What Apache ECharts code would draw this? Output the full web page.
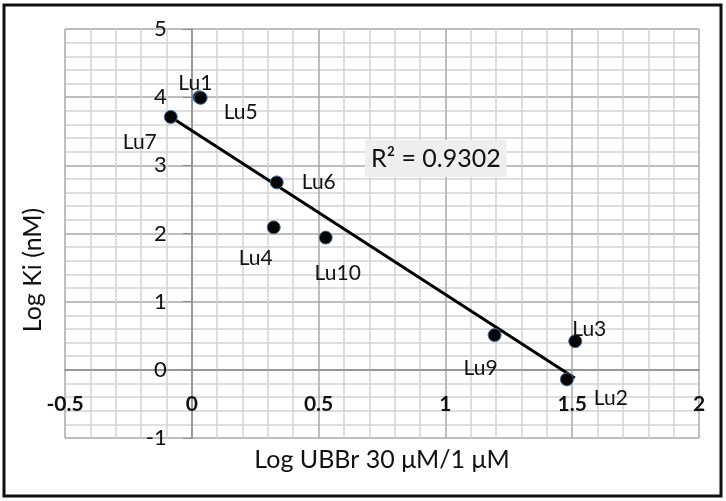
<!DOCTYPE html>
<html>
<head>
<meta charset="utf-8">
<script src="https://cdn.jsdelivr.net/npm/echarts@6/dist/echarts.min.js"></script>
<style>
  html, body { margin: 0; padding: 0; background: #fff; }
  #chart { width: 726px; height: 501px; }
</style>
</head>
<body>
<div id="chart"></div>
<script>
// point names and values (log UBBr ratio, log Ki)
const names = ['Lu1', 'Lu5', 'Lu7', 'Lu6', 'Lu4', 'Lu10', 'Lu9', 'Lu3', 'Lu2'];
const xs = [0.03, 0.035, -0.083, 0.335, 0.323, 0.528, 1.194, 1.512, 1.479];
const ys = [4.0, 3.99, 3.71, 2.75, 2.09, 1.94, 0.51, 0.42, -0.14];

// linear trendline ends, as drawn in the original
const trendX = [-0.083, 1.51];
const trendY = [3.71, -0.12];
const r2 = 0.9302;

const xTicks = [-0.5, 0, 0.5, 1, 1.5, 2];
const yTicks = [-1, 0, 1, 2, 3, 4, 5];

// where each point's label sits, relative to the point (px)
const labelOffset = {
  Lu1: [-4, -14], Lu5: [40, 14], Lu7: [-31, 25], Lu6: [42, 0],
  Lu4: [-18, 31], Lu10: [12, 36], Lu9: [-14, 33], Lu3: [14, -12], Lu2: [44, 19]
};

const FONT = 'Lato, "Open Sans", sans-serif';

let myChart = echarts.init(document.getElementById('chart'));

let pts = names.map(function (n, i) {
  return {
    name: n,
    value: [xs[i], ys[i]],
    label: { offset: labelOffset[n] }
  };
});

// grid box: left 65, right 699, top 29, bottom 438
// axes cross at the origin, so shift each axis onto the other's zero
const gridL = 65, gridR = 27, gridT = 29, gridB = 63;
const plotW = 726 - gridL - gridR, plotH = 501 - gridT - gridB;
const xShift = (0 - xTicks[0]) / (xTicks[xTicks.length - 1] - xTicks[0]) * plotW;
const yShift = (0 - yTicks[0]) / (yTicks[yTicks.length - 1] - yTicks[0]) * plotH;

let option = {
  animation: false,
  grid: { left: gridL, right: gridR, top: gridT, bottom: gridB, containLabel: false },
  xAxis: {
    type: 'value',
    min: xTicks[0],
    max: xTicks[xTicks.length - 1],
    interval: 0.5,
    offset: -yShift,
    axisLine: { onZero: false, lineStyle: { color: '#8c8c8c', width: 1.5 } },
    axisTick: { show: false },
    axisLabel: {
      margin: 24,
      color: '#111',
      fontFamily: FONT,
      fontSize: 21,
      fontWeight: 'bold',
      formatter: function (v) { return String(v); }
    },
    splitLine: { show: true, lineStyle: { color: '#a8a8a8', width: 1.5 } },
    minorTick: { show: false, splitNumber: 5 },
    minorSplitLine: { show: true, lineStyle: { color: '#d4d4d4', width: 1.5 } }
  },
  yAxis: {
    type: 'value',
    min: yTicks[0],
    max: yTicks[yTicks.length - 1],
    interval: 1,
    offset: -xShift,
    axisLine: { onZero: false, lineStyle: { color: '#8c8c8c', width: 1.5 } },
    axisTick: { show: true, length: 9, lineStyle: { color: '#8c8c8c' } },
    axisLabel: {
      margin: 25,
      color: '#111',
      fontFamily: FONT,
      fontSize: 22
    },
    splitLine: { show: true, lineStyle: { color: '#a8a8a8', width: 1.5 } },
    minorTick: { show: false, splitNumber: 5 },
    minorSplitLine: { show: true, lineStyle: { color: '#d4d4d4', width: 1.5 } }
  },
  series: [
    {
      name: 'trend',
      type: 'line',
      data: [[trendX[0], trendY[0]], [trendX[1], trendY[1]]],
      symbol: 'none',
      lineStyle: { color: '#000', width: 3 },
      silent: true,
      z: 3
    },
    {
      name: 'compounds',
      type: 'scatter',
      data: pts,
      symbolSize: 13,
      itemStyle: { color: '#050505', borderColor: '#3f6fa0', borderWidth: 1, opacity: 1 },
      label: {
        show: true,
        position: 'inside',
        formatter: '{b}',
        color: '#111',
        fontFamily: FONT,
        fontSize: 21
      },
      z: 4
    }
  ],
  graphic: [
    {
      type: 'rect',
      shape: { x: 4, y: 5, width: 717, height: 491 },
      style: { fill: 'none', stroke: '#111', lineWidth: 3 },
      z: 10
    },
    {
      type: 'text',
      x: 365, y: 140,
      style: {
        text: 'R² = ' + r2.toFixed(4),
        fill: '#111',
        font: '25px ' + FONT,
        backgroundColor: '#eeeeee',
        padding: [6, 6, 6, 6]
      },
      z: 10
    },
    {
      type: 'text',
      x: 33, y: 270,
      rotation: Math.PI / 2,
      style: {
        text: 'Log Ki (nM)',
        fill: '#111',
        font: '25px ' + FONT,
        align: 'center',
        verticalAlign: 'middle'
      }
    },
    {
      type: 'text',
      x: 382, y: 460,
      style: {
        text: 'Log UBBr 30 μM/1 μM',
        fill: '#111',
        font: '25px ' + FONT,
        align: 'center',
        verticalAlign: 'middle'
      }
    }
  ]
};
myChart.setOption(option);
window.addEventListener('resize', function () { myChart.resize(); });
</script>
</body>
</html>
